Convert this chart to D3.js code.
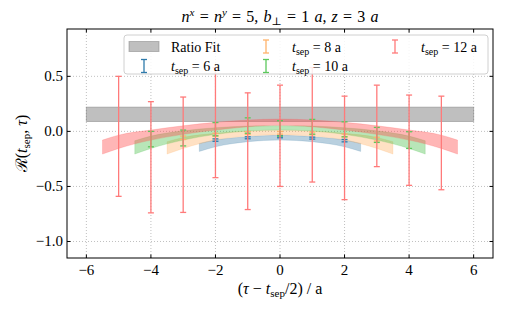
<!DOCTYPE html>
<html>
<head>
<meta charset="utf-8">
<script src="https://cdn.jsdelivr.net/npm/d3@7"></script>
<style>
  body { margin: 0; background: #fff; }
  svg text { font-family: "Liberation Serif", "DejaVu Serif", serif; }
</style>
</head>
<body>
<div id="chart"></div>
<script>
// ---- data ----
const xTicks = [-6, -4, -2, 0, 2, 4, 6];
const yTicks = [-1.0, -0.5, 0.0, 0.5];

// ratio fit band
const fitRange = [-6, 6];
const fitLo = 0.09;
const fitHi = 0.22;

// t_sep = 6 a
const x6 = [-2, -1, 0, 1, 2];
const mean6 = [-0.079, -0.058, -0.049, -0.061, -0.084];
const err6 = [0.011, 0.009, 0.009, 0.009, 0.011];
const band6X = [-2.5, -2, -1, 0, 1, 2, 2.5];
const band6Lo = [-0.182, -0.140, -0.094, -0.079, -0.094, -0.140, -0.182];
const band6Hi = [-0.109, -0.079, -0.049, -0.036, -0.049, -0.079, -0.109];

// t_sep = 8 a
const x8 = [-3, -2, -1, 0, 1, 2, 3];
const mean8 = [-0.058, -0.030, -0.015, -0.013, -0.018, -0.037, -0.070];
const err8 = [0.015, 0.013, 0.012, 0.012, 0.012, 0.013, 0.017];
const band8X = [-3.5, -3, -2, -1, 0, 1, 2, 3, 3.5];
const band8Lo = [-0.206, -0.155, -0.079, -0.043, -0.030, -0.043, -0.079, -0.155, -0.206];
const band8Hi = [-0.094, -0.055, -0.018, 0.003, 0.010, 0.003, -0.018, -0.055, -0.094];

// t_sep = 10 a
const x10 = [-4, -3, -2, -1, 0, 1, 2, 3, 4];
const mean10 = [-0.070, -0.060, 0.020, 0.053, 0.027, 0.042, 0.019, -0.032, -0.079];
const err10 = [0.070, 0.072, 0.060, 0.070, 0.070, 0.067, 0.068, 0.068, 0.076];
const band10X = [-4.5, -4, -3, -2, -1, 0, 1, 2, 3, 4, 4.5];
const band10Lo = [-0.206, -0.155, -0.079, -0.027, 0.003, 0.012, 0.003, -0.027, -0.079, -0.155, -0.206];
const band10Hi = [-0.085, -0.043, 0.005, 0.033, 0.048, 0.052, 0.048, 0.033, 0.005, -0.043, -0.085];

// t_sep = 12 a
const x12 = [-5, -4, -3, -2, -1, 0, 1, 2, 3, 4, 5];
const mean12 = [-0.045, -0.235, -0.212, 0.08, -0.180, -0.040, 0.06, -0.150, 0.050, -0.080, -0.105];
const err12 = [0.545, 0.505, 0.524, 0.50, 0.530, 0.460, 0.52, 0.470, 0.370, 0.410, 0.425];
const band12X = [-5.5, -5, -4, -3, -2, -1, 0, 1, 2, 3, 4, 5, 5.5];
const band12Lo = [-0.206, -0.155, -0.079, -0.027, 0.012, 0.042, 0.055, 0.042, 0.012, -0.027, -0.079, -0.155, -0.206];
const band12Hi = [-0.079, -0.034, 0.012, 0.051, 0.082, 0.103, 0.112, 0.103, 0.082, 0.051, 0.012, -0.034, -0.079];

// ---- layout ----
const width = 505;
const height = 312;
const margin = { top: 29, right: 12, bottom: 54, left: 67 };

const x = d3.scaleLinear().domain([-6.6, 6.6]).range([margin.left, width - margin.right]);
const y = d3.scaleLinear().domain([-1.15, 0.93]).range([height - margin.bottom, margin.top]);

const series = [
  { tsep: 6,  xs: x6,  mean: mean6,  err: err6,  bx: band6X,  lo: band6Lo,  hi: band6Hi,
    bar: "#2f7bab", band: "#2a6f9e", bandOp: 0.33 },
  { tsep: 8,  xs: x8,  mean: mean8,  err: err8,  bx: band8X,  lo: band8Lo,  hi: band8Hi,
    bar: "#ffb36b", band: "#ff9a3c", bandOp: 0.3 },
  { tsep: 10, xs: x10, mean: mean10, err: err10, bx: band10X, lo: band10Lo, hi: band10Hi,
    bar: "#5cc85c", band: "#34b834", bandOp: 0.35 },
  { tsep: 12, xs: x12, mean: mean12, err: err12, bx: band12X, lo: band12Lo, hi: band12Hi,
    bar: "#ff7a7a", band: "#ff5050", bandOp: 0.42 }
];

const svg = d3.select("#chart").append("svg")
  .attr("width", width)
  .attr("height", height);

const plotW = width - margin.left - margin.right;
const plotH = height - margin.top - margin.bottom;

svg.append("defs").append("clipPath").attr("id", "clip")
  .append("rect")
  .attr("x", margin.left).attr("y", margin.top)
  .attr("width", plotW).attr("height", plotH);

// grid
const grid = svg.append("g").attr("stroke", "#b0b0b0").attr("stroke-width", 0.8).attr("stroke-dasharray", "1,2");
grid.selectAll(".gx").data(xTicks).enter().append("line")
  .attr("x1", d => x(d)).attr("x2", d => x(d))
  .attr("y1", margin.top).attr("y2", height - margin.bottom);
grid.selectAll(".gy").data(yTicks).enter().append("line")
  .attr("x1", margin.left).attr("x2", width - margin.right)
  .attr("y1", d => y(d)).attr("y2", d => y(d));

const plot = svg.append("g").attr("clip-path", "url(#clip)");

// ratio fit band
plot.append("rect")
  .attr("x", x(fitRange[0]))
  .attr("width", x(fitRange[1]) - x(fitRange[0]))
  .attr("y", y(fitHi))
  .attr("height", y(fitLo) - y(fitHi))
  .attr("fill", "#808080").attr("fill-opacity", 0.5)
  .attr("stroke", "#808080").attr("stroke-opacity", 0.5);

// fit bands
const area = d3.area()
  .curve(d3.curveMonotoneX)
  .x(d => x(d.x))
  .y0(d => y(d.lo))
  .y1(d => y(d.hi));

series.forEach(s => {
  const pts = s.bx.map((v, i) => ({ x: v, lo: s.lo[i], hi: s.hi[i] }));
  plot.append("path")
    .datum(pts)
    .attr("d", area)
    .attr("fill", s.band)
    .attr("fill-opacity", s.bandOp)
    .attr("stroke", s.band)
    .attr("stroke-opacity", s.bandOp * 0.6)
    .attr("stroke-width", 0.8);
});

// error bars
const capW = 3;
series.forEach(s => {
  const pts = s.xs.map((v, i) => ({ x: v, m: s.mean[i], e: s.err[i] }));
  const g = plot.append("g").attr("stroke", s.bar).attr("stroke-width", 1.3);
  const eb = g.selectAll("g").data(pts).enter().append("g");
  eb.append("line")
    .attr("x1", d => x(d.x)).attr("x2", d => x(d.x))
    .attr("y1", d => y(d.m - d.e)).attr("y2", d => y(d.m + d.e));
  eb.append("line")
    .attr("x1", d => x(d.x) - capW).attr("x2", d => x(d.x) + capW)
    .attr("y1", d => y(d.m - d.e)).attr("y2", d => y(d.m - d.e));
  eb.append("line")
    .attr("x1", d => x(d.x) - capW).attr("x2", d => x(d.x) + capW)
    .attr("y1", d => y(d.m + d.e)).attr("y2", d => y(d.m + d.e));
});

// frame and inward ticks
svg.append("rect")
  .attr("x", margin.left).attr("y", margin.top)
  .attr("width", plotW).attr("height", plotH)
  .attr("fill", "none").attr("stroke", "#000").attr("stroke-width", 1);

const tickLen = 3.5;
const ticks = svg.append("g").attr("stroke", "#000").attr("stroke-width", 1);
xTicks.forEach(t => {
  ticks.append("line").attr("x1", x(t)).attr("x2", x(t))
    .attr("y1", height - margin.bottom).attr("y2", height - margin.bottom - tickLen);
  ticks.append("line").attr("x1", x(t)).attr("x2", x(t))
    .attr("y1", margin.top).attr("y2", margin.top + tickLen);
});
yTicks.forEach(t => {
  ticks.append("line").attr("x1", margin.left).attr("x2", margin.left + tickLen)
    .attr("y1", y(t)).attr("y2", y(t));
  ticks.append("line").attr("x1", width - margin.right).attr("x2", width - margin.right - tickLen)
    .attr("y1", y(t)).attr("y2", y(t));
});

const fmtMinus = s => s.replace("-", "\u2212");

svg.append("g").selectAll("text").data(xTicks).enter().append("text")
  .attr("x", d => x(d)).attr("y", height - margin.bottom + 17)
  .attr("text-anchor", "middle").attr("font-size", 15)
  .text(d => fmtMinus(String(d)));

svg.append("g").selectAll("text").data(yTicks).enter().append("text")
  .attr("x", margin.left - 4).attr("y", d => y(d) + 5)
  .attr("text-anchor", "end").attr("font-size", 15)
  .text(d => fmtMinus(d.toFixed(1)));

// title
const title = svg.append("text")
  .attr("x", margin.left + plotW / 2).attr("y", 22)
  .attr("text-anchor", "middle").attr("font-size", 16)
  .attr("word-spacing", 1.2);
function part(el, txt, opts) {
  const o = opts || {};
  const t = el.append("tspan").text(txt);
  if (o.it) t.attr("font-style", "italic");
  if (o.size) t.attr("font-size", o.size);
  if (o.dy) t.attr("dy", o.dy);
  return t;
}
part(title, "n", { it: true });
part(title, "x", { it: true, size: 11, dy: -6 });
part(title, " = ", { dy: 6 });
part(title, "n", { it: true });
part(title, "y", { it: true, size: 11, dy: -6 });
part(title, " = 5, ", { dy: 6 });
part(title, "b", { it: true });
part(title, "\u22a5", { size: 11, dy: 3 });
part(title, " = 1 ", { dy: -3 });
part(title, "a", { it: true });
part(title, ", ");
part(title, "z", { it: true });
part(title, " = 3 ");
part(title, "a", { it: true });

// x label
const xl = svg.append("text")
  .attr("x", margin.left + plotW / 2).attr("y", height - 18)
  .attr("text-anchor", "middle").attr("font-size", 16);
part(xl, "(");
part(xl, "\u03c4", { it: true });
part(xl, " \u2212 ");
part(xl, "t", { it: true });
part(xl, "sep", { size: 11, dy: 3 });
part(xl, "/2) / a", { dy: -3 });

// y label
const yl = svg.append("text")
  .attr("transform", `translate(27, ${margin.top + plotH / 2}) rotate(-90)`)
  .attr("text-anchor", "middle").attr("font-size", 16);
part(yl, "\u211b(");
part(yl, "t", { it: true });
part(yl, "sep", { size: 11, dy: 3 });
part(yl, ", ", { dy: -3 });
part(yl, "\u03c4", { it: true });
part(yl, ")");

// legend
const leg = svg.append("g");
leg.append("rect")
  .attr("x", 124).attr("y", 35).attr("width", 364).attr("height", 39)
  .attr("rx", 3)
  .attr("fill", "#fff").attr("fill-opacity", 0.85)
  .attr("stroke", "#d0d0d0").attr("stroke-width", 1);

const rowY = [46.5, 66];
const colHandle = [144, 266, 395];
const colText = [171, 292, 421];

leg.append("rect")
  .attr("x", colHandle[0] - 15).attr("y", rowY[0] - 5)
  .attr("width", 30).attr("height", 10)
  .attr("fill", "#808080").attr("fill-opacity", 0.5)
  .attr("stroke", "#808080").attr("stroke-opacity", 0.5);
leg.append("text")
  .attr("x", colText[0]).attr("y", rowY[0] + 5)
  .attr("font-size", 14).text("Ratio Fit");

const slots = [[0, 1], [1, 0], [1, 1], [2, 0]];
series.forEach((s, i) => {
  const cx = colHandle[slots[i][0]];
  const cy = rowY[slots[i][1]];
  const g = leg.append("g").attr("stroke", s.bar).attr("stroke-width", 1.3);
  g.append("line").attr("x1", cx).attr("x2", cx).attr("y1", cy - 6.5).attr("y2", cy + 6.5);
  g.append("line").attr("x1", cx - capW).attr("x2", cx + capW).attr("y1", cy - 6.5).attr("y2", cy - 6.5);
  g.append("line").attr("x1", cx - capW).attr("x2", cx + capW).attr("y1", cy + 6.5).attr("y2", cy + 6.5);
  const t = leg.append("text")
    .attr("x", colText[slots[i][0]]).attr("y", cy + 5)
    .attr("font-size", 14);
  part(t, "t", { it: true });
  part(t, "sep", { size: 10, dy: 3 });
  part(t, ` = ${s.tsep} a`, { dy: -3 });
});
</script>
</body>
</html>
